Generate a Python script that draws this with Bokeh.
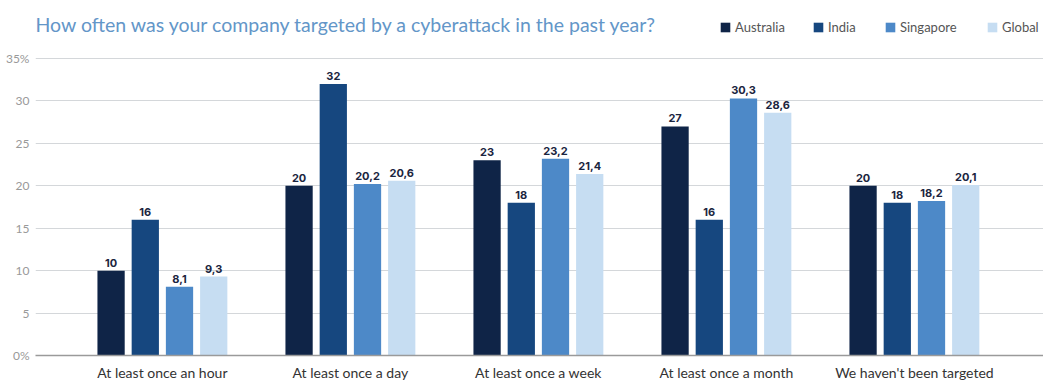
from bokeh.plotting import figure
from bokeh.models import ColumnDataSource, Legend, LegendItem, Label, FixedTicker, Range1d
from bokeh.core.properties import value
from bokeh.transform import dodge
from bokeh.embed import file_html
from bokeh.resources import INLINE

categories = ["At least once an hour", "At least once a day", "At least once a week",
              "At least once a month", "We haven't been targeted"]
series = ["Australia", "India", "Singapore", "Global"]
australia = [10, 20, 23, 27, 20]
india = [16, 32, 18, 16, 18]
singapore = [8.1, 20.2, 23.2, 30.3, 18.2]
global_ = [9.3, 20.6, 21.4, 28.6, 20.1]
colors = ["#0f2447", "#16477f", "#4d89c8", "#c6ddf2"]
y_ticks = [0, 5, 10, 15, 20, 25, 30, 35]

def fmt(v):
    return ("%g" % v).replace(".", ",")

FONT = "Lato"
FRAME_W = 1008
FRAME_H = 355          # frame reaches the top of the canvas; title/legend drawn inside
PX_PER_UNIT = 297 / 35
CAT_PX = 188
X0 = -0.675
p = figure(frame_width=FRAME_W, frame_height=FRAME_H, output_backend="svg", toolbar_location=None,
           x_range=Range1d(X0, X0 + FRAME_W / CAT_PX),
           y_range=Range1d(0, FRAME_H / PX_PER_UNIT),
           min_border_left=35, min_border_right=0, min_border_top=0, min_border_bottom=0)
p.outline_line_color = None
p.background_fill_color = "white"

xs = list(range(len(categories)))
offsets = [-0.273, -0.091, 0.091, 0.273]
renderers = []
for vals, name, col, off in zip([australia, india, singapore, global_], series, colors, offsets):
    src = ColumnDataSource(dict(x=xs, top=vals, lab=[fmt(v) for v in vals]))
    r = p.vbar(x=dodge("x", off), top="top", width=0.145, source=src, color=col, line_color=None)
    renderers.append((name, r))
    p.text(x=dodge("x", off), y="top", text="lab", source=src, text_align="center",
           text_baseline="bottom", y_offset=-4, text_font=value("Inter"),
           text_font_style="bold", text_font_size="11px", text_color="#1b2540")

# axes
p.yaxis.ticker = FixedTicker(ticks=y_ticks)
p.yaxis.major_label_overrides = {t: (f"{t}%" if t in (0, 35) else str(t)) for t in y_ticks}
p.yaxis.axis_line_color = None
p.yaxis.major_tick_line_color = None
p.yaxis.minor_tick_line_color = None
p.yaxis.major_tick_out = 0
p.yaxis.major_label_text_font = FONT
p.yaxis.major_label_text_font_size = "12px"
p.yaxis.major_label_text_color = "#999999"
p.yaxis.major_label_standoff = 6

p.xaxis.ticker = FixedTicker(ticks=xs)
p.xaxis.major_label_overrides = {i: c for i, c in enumerate(categories)}
p.xaxis.axis_line_color = "#9a9a9a"
p.xaxis.axis_line_width = 1.5
p.xaxis.major_tick_line_color = None
p.xaxis.minor_tick_line_color = None
p.xaxis.major_tick_out = 0
p.xaxis.major_label_text_font = FONT
p.xaxis.major_label_text_font_size = "14px"
p.xaxis.major_label_text_color = "#333333"
p.xaxis.major_label_standoff = 8

p.xgrid.grid_line_color = None
p.ygrid.grid_line_color = "#d4d7da"
p.ygrid.grid_line_width = 1

# title
title = Label(x=0, y=FRAME_H - 24, x_units="screen", y_units="screen",
              text="How often was your company targeted by a cyberattack in the past year?",
              text_font=FONT, text_font_size="19.5px", text_color="#6396c8",
              text_baseline="middle", text_align="left")
p.add_layout(title)

legend_x = [684, 777, 849, 951]
for (n, r), lx in zip(renderers, legend_x):
    lg = Legend(items=[LegendItem(label=n, renderers=[r])],
                orientation="horizontal", location=(lx, FRAME_H - 35),
                glyph_width=12, glyph_height=12, label_standoff=4, spacing=0,
                padding=0, margin=0, border_line_color=None, background_fill_alpha=0,
                label_text_font=FONT, label_text_font_size="13px", label_text_color="#555555")
    p.add_layout(lg)

open("out.html", "w").write(file_html(p, INLINE))
